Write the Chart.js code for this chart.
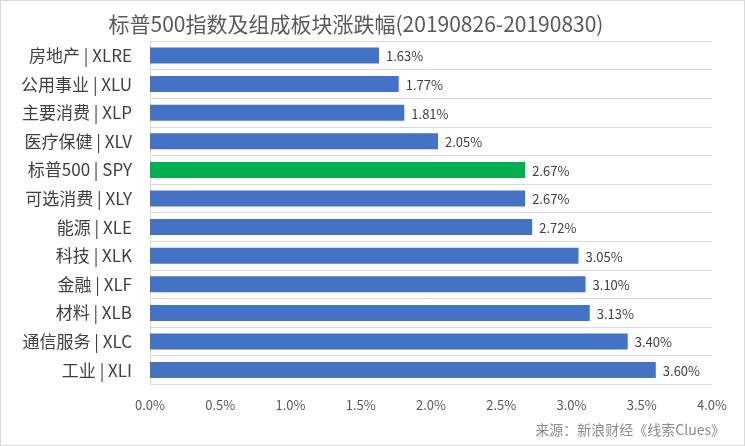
<!DOCTYPE html>
<html>
<head>
<meta charset="utf-8">
<script src="https://cdn.jsdelivr.net/npm/chart.js@4/dist/chart.umd.min.js"></script>
<style>
  html, body { margin: 0; padding: 0; background: #fff; }
  #wrap { width: 745px; height: 446px; }
</style>
</head>
<body>
<div id="wrap"><canvas id="myChart"></canvas></div>
<script>
var categorias = ['房地产 | XLRE', '公用事业 | XLU', '主要消费 | XLP', '医疗保健 | XLV', '标普500 | SPY',
  '可选消费 | XLY', '能源 | XLE', '科技 | XLK', '金融 | XLF', '材料 | XLB', '通信服务 | XLC', '工业 | XLI'];
var valores = [1.63, 1.77, 1.81, 2.05, 2.67, 2.67, 2.72, 3.05, 3.10, 3.13, 3.40, 3.60];
var cores = ['#4472C4', '#4472C4', '#4472C4', '#4472C4', '#00B050', '#4472C4',
  '#4472C4', '#4472C4', '#4472C4', '#4472C4', '#4472C4', '#4472C4'];
var titulo = '标普500指数及组成板块涨跌幅(20190826-20190830)';
var fonte = '来源：新浪财经《线索Clues》';
var fam = '"Noto Sans CJK SC", "Noto Sans", sans-serif';

// fundo branco, borda e texto da fonte
var extras = {
  id: 'extras',
  beforeDraw: function (chart) {
    var c = chart.ctx;
    c.save();
    c.fillStyle = '#fff';
    c.fillRect(0, 0, chart.width, chart.height);
    c.strokeStyle = '#d9d9d9';
    c.lineWidth = 1;
    c.strokeRect(0.5, 0.5, chart.width - 1, chart.height - 1);
    c.restore();
  },
  afterDraw: function (chart) {
    var c = chart.ctx;
    c.save();
    c.font = '14px ' + fam;
    c.fillStyle = '#8c8c8c';
    c.textAlign = 'right';
    c.textBaseline = 'middle';
    c.fillText(fonte, chart.width - 20, 430);
    c.restore();
  }
};

// rotulos no fim das barras
var rotulos = {
  id: 'rotulos',
  afterDatasetsDraw: function (chart) {
    var c = chart.ctx;
    var meta = chart.getDatasetMeta(0);
    c.save();
    c.font = '13px ' + fam;
    c.fillStyle = '#404040';
    c.textAlign = 'left';
    c.textBaseline = 'middle';
    meta.data.forEach(function (bar, i) {
      c.fillText(valores[i].toFixed(2) + '%', bar.x + 7, bar.y + 1);
    });
    c.restore();
  }
};

const ctx = document.getElementById('myChart').getContext('2d');
const myChart = new Chart(ctx, {
  type: 'bar',
  data: {
    labels: categorias,
    datasets: [{
      data: valores,
      backgroundColor: cores,
      barPercentage: 0.56,
      categoryPercentage: 1
    }]
  },
  options: {
    indexAxis: 'y',
    responsive: true,
    maintainAspectRatio: false,
    animation: false,
    layout: { padding: { top: 0, right: 33, bottom: 28, left: 0 } },
    plugins: {
      legend: { display: false },
      tooltip: { enabled: false },
      title: {
        display: true,
        text: titulo,
        color: '#595959',
        font: { family: fam, size: 21, weight: 'normal' },
        padding: { top: 11, bottom: 5 }
      }
    },
    scales: {
      x: {
        min: 0,
        max: 4,
        ticks: {
          stepSize: 0.5,
          color: '#595959',
          font: { family: fam, size: 13 },
          padding: 5,
          callback: function (v) { return v.toFixed(1) + '%'; }
        },
        grid: { display: false },
        border: { display: false }
      },
      y: {
        ticks: {
          color: '#404040',
          font: { family: fam, size: 17 },
          padding: 18
        },
        grid: { offset: true, color: '#d9d9d9', drawTicks: false },
        border: { display: true, color: '#d9d9d9' },
        afterFit: function (scale) { scale.width = 150; }
      }
    }
  },
  plugins: [extras, rotulos]
});
</script>
</body>
</html>
